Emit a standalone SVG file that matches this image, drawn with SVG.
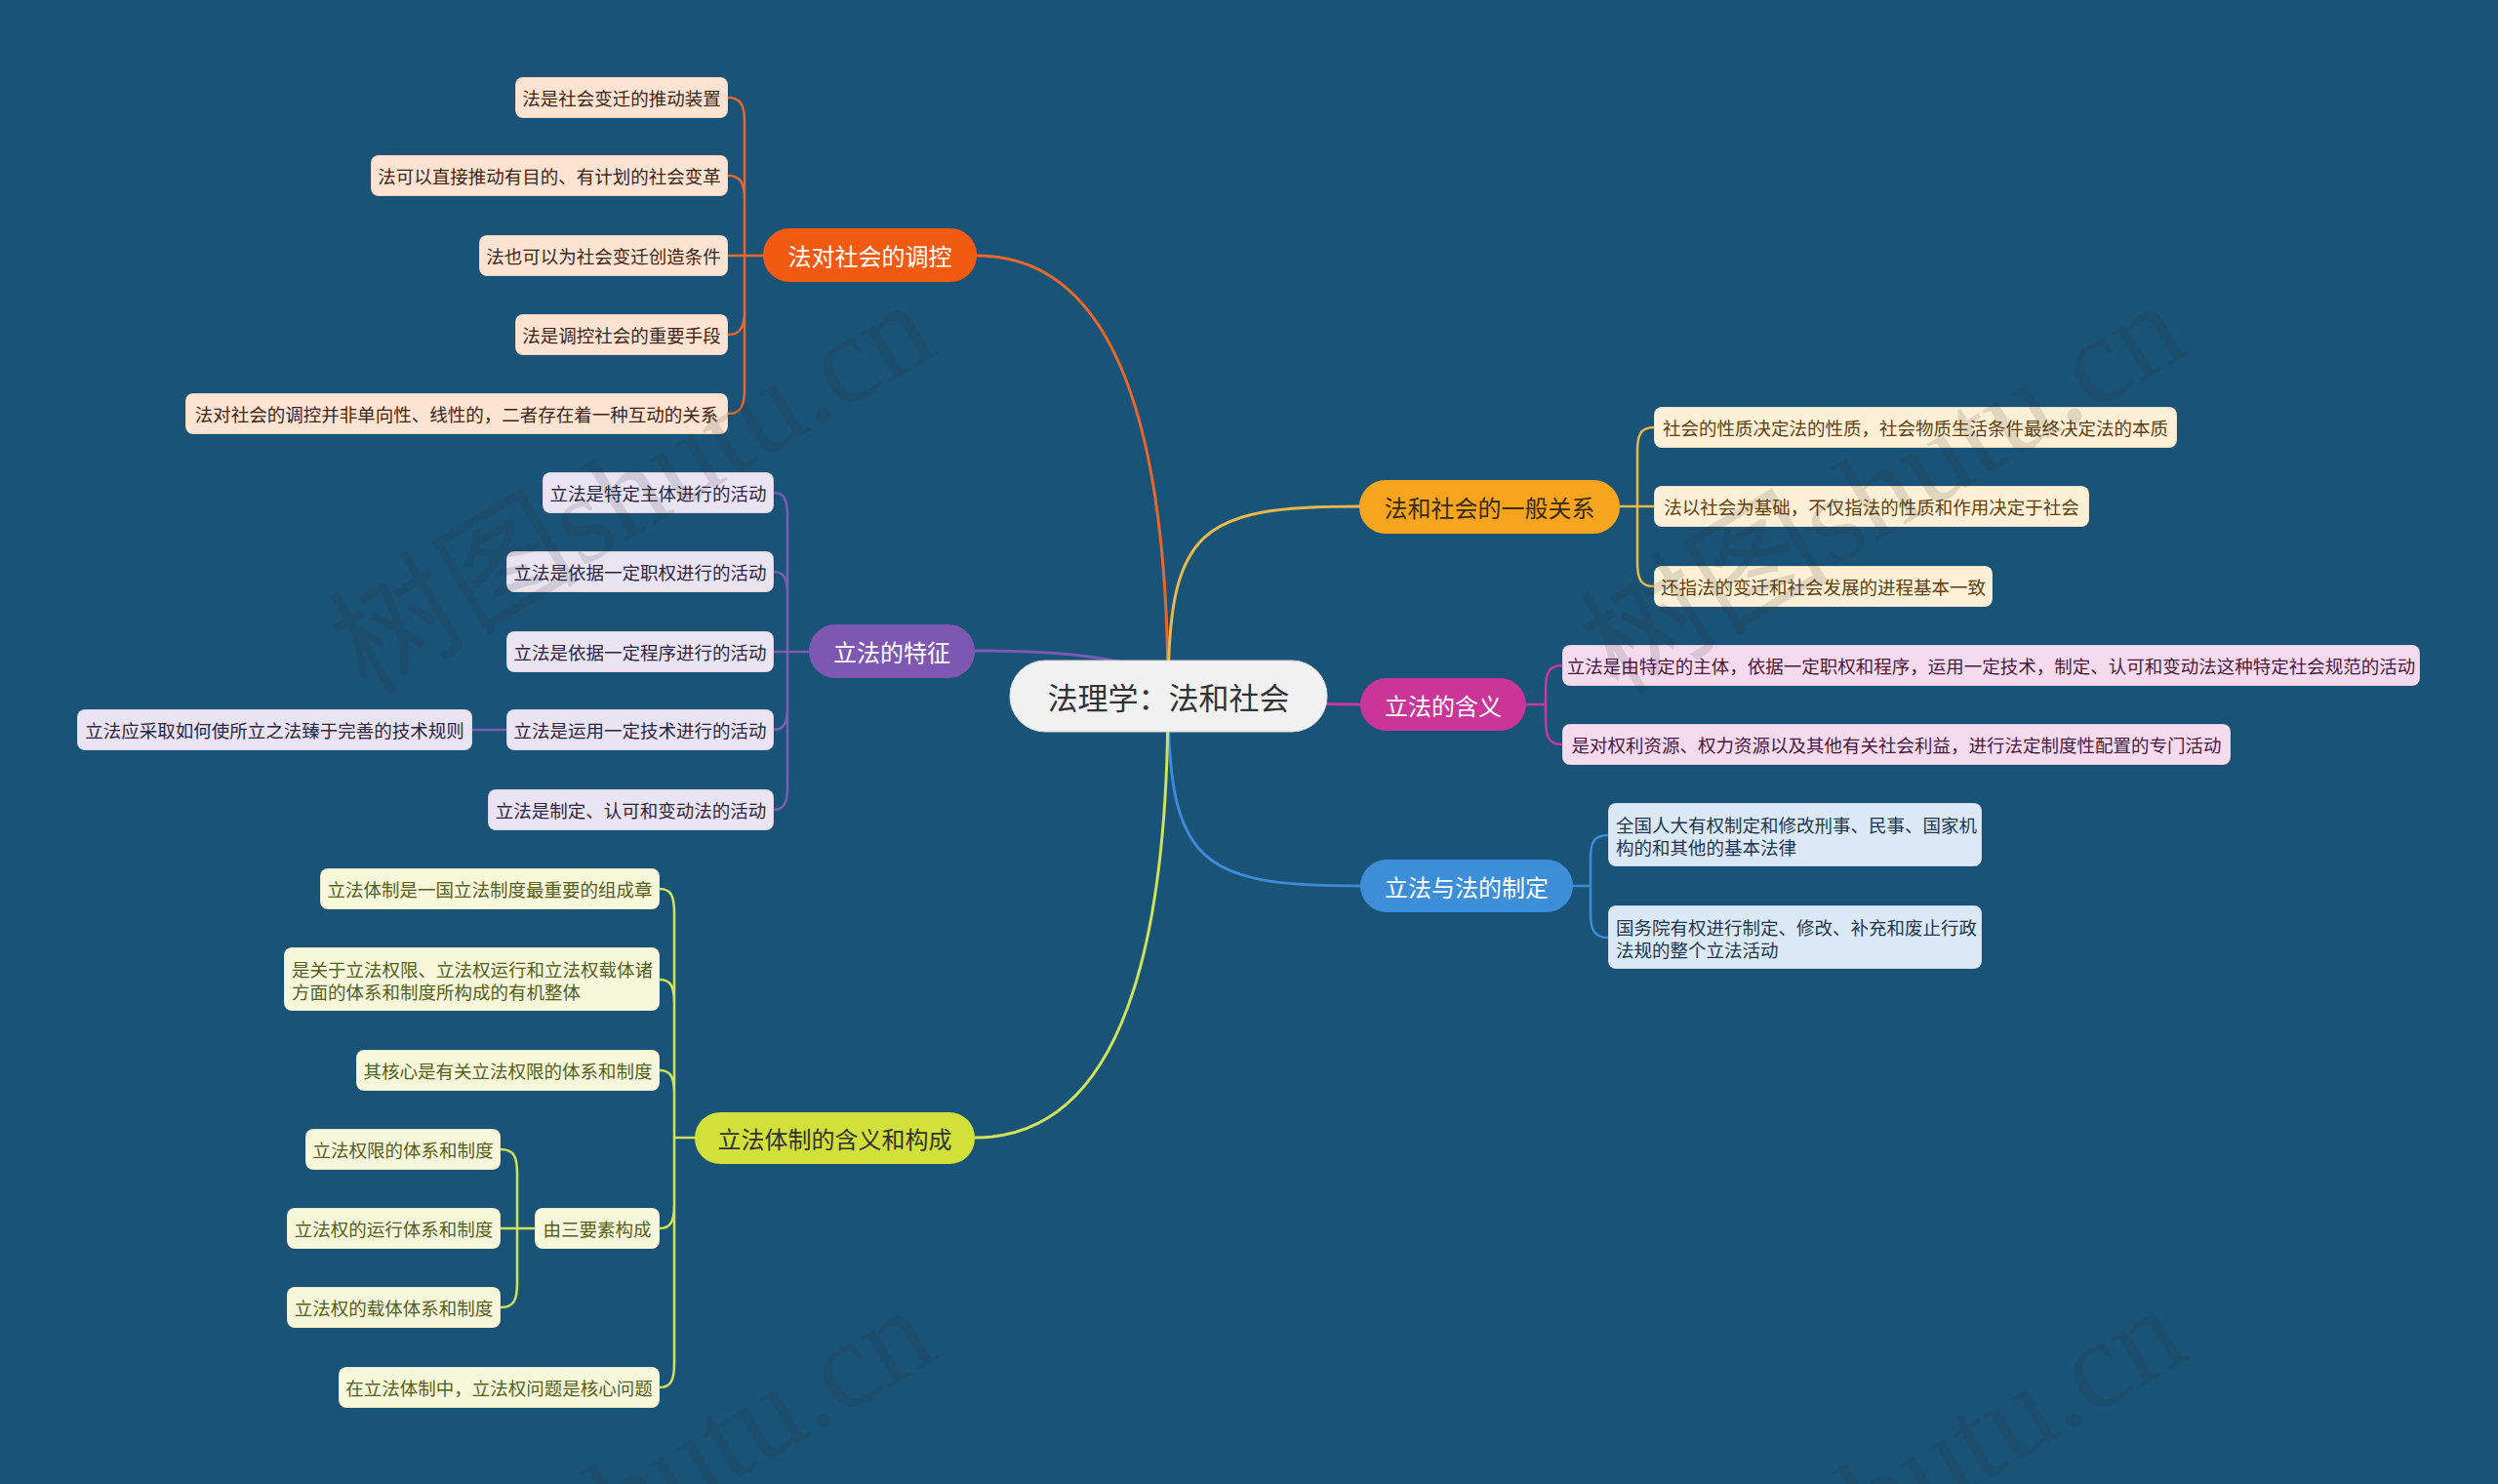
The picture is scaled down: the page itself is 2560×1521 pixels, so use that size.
<svg xmlns="http://www.w3.org/2000/svg" width="2560" height="1521" viewBox="0 0 2560 1521">
<style>
text { font-family: "Noto Sans CJK SC", "Noto Sans", sans-serif; dominant-baseline: central; }
.leaf text { font-size: 18.5px; text-anchor: middle; }
.leaf text.ml { text-anchor: start; }
.leaf rect { rx: 8px; ry: 8px; stroke: rgba(0,0,0,0.12); stroke-width: 1; }
.main text { font-size: 24px; text-anchor: middle; }
.c path { fill: none; stroke-linecap: round; stroke-linejoin: round; }
.m { stroke-width: 3; }
.l { stroke-width: 2.5; }
.o rect { fill: #fde3d2; } .o text { fill: #3d2618; }
.y rect { fill: #fdf0d6; } .y text { fill: #5e4010; }
.p rect { fill: #e9e3f2; } .p text { fill: #2e2640; }
.k rect { fill: #f6dbef; } .k text { fill: #4a1840; }
.b rect { fill: #dbe9f6; } .b text { fill: #1e3650; }
.g rect { fill: #f7f7dc; } .g text { fill: #55601a; }
.so { stroke: #e8672a; } .sy { stroke: #e6b94a; } .sp { stroke: #7d5bb5; }
.sk { stroke: #c9399d; } .sb { stroke: #3d8ad6; } .sg { stroke: #cfe35a; }
.wm text { font-family: "Liberation Serif", "Noto Sans CJK SC", serif; font-size: 128px; fill: #2a2a2a; opacity: 0.13; dominant-baseline: alphabetic; }
</style>
<rect width="2560" height="1521" fill="#1a5378"/>

<g id="connectors" class="c">
  <path class="m so" d="M1197,713 Q1197,262 1001,262"/>
  <path class="m sy" d="M1197,713 C1197,540 1230,519 1394,519"/>
  <path class="m sp" d="M1197,713 Q1197,667 999,667"/>
  <path class="m sk" d="M1197,713 C1300,713 1300,722 1394,722"/>
  <path class="m sb" d="M1197,713 C1197,886 1230,908 1394,908"/>
  <path class="m sg" d="M1197,713 Q1197,1166 999,1166"/>

  <path class="l so" d="M782,262 H763 M763,262 V125 C763,108 759,100 746,100 M763,262 V205 C763,188 759,180 746,180 M763,262 H746 M763,262 V318 C763,335 759,343 746,343 M763,262 V399 C763,416 759,424 746,424"/>

  <path class="l sp" d="M829,668 H807 M807,668 V530 C807,513 804,505 793,505 M807,668 V611 C807,594 804,586 793,586 M807,668 H793 M807,668 V723 C807,740 804,748 793,748 M807,668 V805 C807,822 804,830 793,830 M519,748 H484"/>

  <path class="l sg" d="M712,1166 H691 M691,1166 V936 C691,919 688,911 676,911 M691,1166 V1029 C691,1012 688,1004 676,1004 M691,1166 V1122 C691,1105 688,1097 676,1097 M691,1166 V1234 C691,1251 688,1259 676,1259 M691,1166 V1397 C691,1414 688,1422 676,1422 M548,1259 H530 M530,1259 V1203 C530,1186 527,1178 513,1178 M530,1259 H513 M530,1259 V1315 C530,1332 527,1340 513,1340"/>

  <path class="l sy" d="M1660,519 H1678 M1678,519 V463 C1678,446 1681,438 1695,438 M1678,519 H1695 M1678,519 V576 C1678,593 1681,601 1695,601"/>

  <path class="l sk" d="M1564,722 H1584 M1584,722 V707 C1584,690 1587,682 1601,682 M1584,722 V738 C1584,755 1587,763 1601,763"/>

  <path class="l sb" d="M1612,908 H1630 M1630,908 V881 C1630,864 1633,856 1648,856 M1630,908 V935 C1630,952 1633,961 1648,961"/>
</g>

<g id="root">
  <rect x="1035" y="677" width="325" height="73" rx="36" fill="#f1f1f1" stroke="#d8d8d8" stroke-width="1"/>
  <text x="1197.5" y="713.5" font-size="31" text-anchor="middle" fill="#333333">法理学：法和社会</text>
</g>

<g id="branch-tiaokong" class="main">
  <rect x="782" y="234" width="219" height="55" rx="27" fill="#f25a12"/>
  <text x="891.5" y="261.5" fill="#ffffff">法对社会的调控</text>
</g>
<g id="branch-guanxi" class="main">
  <rect x="1393" y="492" width="267" height="55" rx="27" fill="#f7a51f"/>
  <text x="1526.5" y="519.5" fill="#3a2a10">法和社会的一般关系</text>
</g>
<g id="branch-tezheng" class="main">
  <rect x="829" y="640" width="170" height="55" rx="27" fill="#7e57b2"/>
  <text x="914" y="667.5" fill="#ffffff">立法的特征</text>
</g>
<g id="branch-hanyi" class="main">
  <rect x="1394" y="695" width="170" height="54" rx="27" fill="#c93598"/>
  <text x="1479" y="722" fill="#ffffff">立法的含义</text>
</g>
<g id="branch-zhiding" class="main">
  <rect x="1394" y="881" width="218" height="54" rx="27" fill="#3d8ed8"/>
  <text x="1503" y="908" fill="#ffffff">立法与法的制定</text>
</g>
<g id="branch-tizhi" class="main">
  <rect x="712" y="1140" width="287" height="53" rx="26" fill="#d2e03a"/>
  <text x="855.5" y="1166.5" fill="#333333">立法体制的含义和构成</text>
</g>

<g id="o1" class="leaf o"><rect x="528" y="79" width="218" height="42"/><text x="637" y="100">法是社会变迁的推动装置</text></g>
<g id="o2" class="leaf o"><rect x="380" y="159" width="366" height="42"/><text x="563" y="180">法可以直接推动有目的、有计划的社会变革</text></g>
<g id="o3" class="leaf o"><rect x="491" y="241" width="255" height="42"/><text x="618.5" y="262">法也可以为社会变迁创造条件</text></g>
<g id="o4" class="leaf o"><rect x="528" y="322" width="218" height="42"/><text x="637" y="343">法是调控社会的重要手段</text></g>
<g id="o5" class="leaf o"><rect x="190" y="403" width="556" height="42"/><text x="468" y="424">法对社会的调控并非单向性、线性的，二者存在着一种互动的关系</text></g>

<g id="p1" class="leaf p"><rect x="556" y="484" width="237" height="42"/><text x="674.5" y="505">立法是特定主体进行的活动</text></g>
<g id="p2" class="leaf p"><rect x="519" y="565" width="274" height="42"/><text x="656" y="586">立法是依据一定职权进行的活动</text></g>
<g id="p3" class="leaf p"><rect x="519" y="647" width="274" height="42"/><text x="656" y="668">立法是依据一定程序进行的活动</text></g>
<g id="p4" class="leaf p"><rect x="519" y="727" width="274" height="42"/><text x="656" y="748">立法是运用一定技术进行的活动</text></g>
<g id="p5" class="leaf p"><rect x="500" y="809" width="293" height="42"/><text x="646.5" y="830">立法是制定、认可和变动法的活动</text></g>
<g id="p4a" class="leaf p"><rect x="79" y="727" width="405" height="42"/><text x="281.5" y="748">立法应采取如何使所立之法臻于完善的技术规则</text></g>

<g id="g1" class="leaf g"><rect x="328" y="890" width="348" height="42"/><text x="502" y="911">立法体制是一国立法制度最重要的组成章</text></g>
<g id="g2" class="leaf g"><rect x="291" y="971" width="385" height="65"/><text class="ml" x="299" y="993">是关于立法权限、立法权运行和立法权载体诸</text><text class="ml" x="299" y="1016">方面的体系和制度所构成的有机整体</text></g>
<g id="g3" class="leaf g"><rect x="365" y="1076" width="311" height="42"/><text x="520.5" y="1097">其核心是有关立法权限的体系和制度</text></g>
<g id="g4" class="leaf g"><rect x="548" y="1238" width="128" height="42"/><text x="612" y="1259">由三要素构成</text></g>
<g id="g4a" class="leaf g"><rect x="313" y="1157" width="200" height="42"/><text x="413" y="1178">立法权限的体系和制度</text></g>
<g id="g4b" class="leaf g"><rect x="294" y="1238" width="219" height="42"/><text x="403.5" y="1259">立法权的运行体系和制度</text></g>
<g id="g4c" class="leaf g"><rect x="294" y="1319" width="219" height="42"/><text x="403.5" y="1340">立法权的载体体系和制度</text></g>
<g id="g5" class="leaf g"><rect x="347" y="1401" width="329" height="42"/><text x="511.5" y="1422">在立法体制中，立法权问题是核心问题</text></g>

<g id="y1" class="leaf y"><rect x="1695" y="417" width="536" height="42"/><text x="1963" y="438">社会的性质决定法的性质，社会物质生活条件最终决定法的本质</text></g>
<g id="y2" class="leaf y"><rect x="1695" y="498" width="446" height="42"/><text x="1918" y="519">法以社会为基础，不仅指法的性质和作用决定于社会</text></g>
<g id="y3" class="leaf y"><rect x="1695" y="580" width="347" height="42"/><text x="1868.5" y="601">还指法的变迁和社会发展的进程基本一致</text></g>

<g id="k1" class="leaf k"><rect x="1601" y="661" width="879" height="42"/><text x="2040.5" y="682">立法是由特定的主体，依据一定职权和程序，运用一定技术，制定、认可和变动法这种特定社会规范的活动</text></g>
<g id="k2" class="leaf k"><rect x="1601" y="742" width="685" height="42"/><text x="1943.5" y="763">是对权利资源、权力资源以及其他有关社会利益，进行法定制度性配置的专门活动</text></g>

<g id="b1" class="leaf b"><rect x="1648" y="823" width="383" height="65"/><text class="ml" x="1656" y="845">全国人大有权制定和修改刑事、民事、国家机</text><text class="ml" x="1656" y="868">构的和其他的基本法律</text></g>
<g id="b2" class="leaf b"><rect x="1648" y="928" width="383" height="65"/><text class="ml" x="1656" y="950">国务院有权进行制定、修改、补充和废止行政</text><text class="ml" x="1656" y="973">法规的整个立法活动</text></g>

<g id="watermark" class="wm">
  <text transform="translate(376,714) rotate(-31)">树图shutu.cn</text>
  <text transform="translate(1658,714) rotate(-31)">树图shutu.cn</text>
  <text transform="translate(376,1744) rotate(-31)">树图shutu.cn</text>
  <text transform="translate(1658,1744) rotate(-31)">树图shutu.cn</text>
</g>
</svg>
